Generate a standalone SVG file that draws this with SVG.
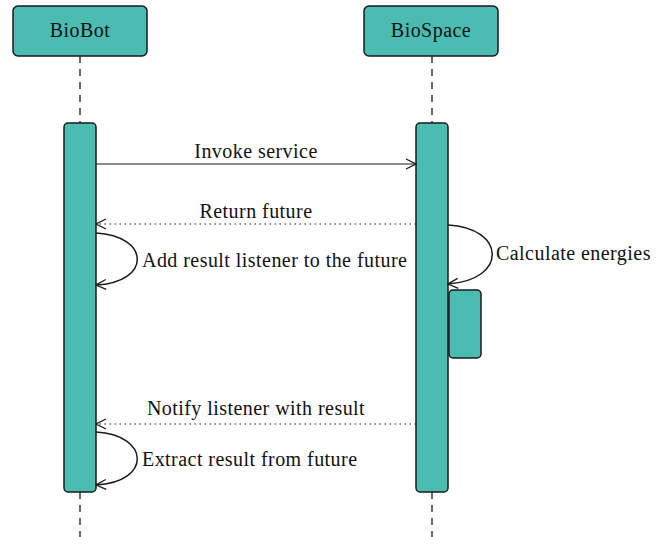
<svg xmlns="http://www.w3.org/2000/svg" width="663" height="537" viewBox="0 0 663 537">
  <style>
    .box { fill: #4BBCB1; stroke: #1a1a1a; stroke-width: 1.5; }
    .life { stroke: #1a1a1a; stroke-width: 1.3; stroke-dasharray: 7 6; fill: none; }
    .msg { stroke: #1a1a1a; stroke-width: 1.2; fill: none; }
    .ret { stroke: #1a1a1a; stroke-width: 1.2; fill: none; stroke-dasharray: 1.5 3.5; }
    .loop { stroke: #1a1a1a; stroke-width: 1.5; fill: none; }
    text { font-family: "Liberation Serif", "DejaVu Serif", serif; font-size: 20px; letter-spacing: 0.45px; fill: #111; }
    .mid { text-anchor: middle; }
  </style>
  <defs>
    <marker id="open" viewBox="0 0 12 12" refX="11" refY="6" markerWidth="12" markerHeight="12" markerUnits="userSpaceOnUse" orient="auto">
      <path d="M1,1 L11,6 L1,11" fill="none" stroke="#1a1a1a" stroke-width="1.3"/>
    </marker>
  </defs>

  <!-- lifelines -->
  <g id="lifelines">
    <line class="life" x1="80" y1="56" x2="80" y2="123"/>
    <line class="life" x1="80" y1="492" x2="80" y2="537"/>
    <line class="life" x1="432" y1="56" x2="432" y2="123"/>
    <line class="life" x1="432" y1="492" x2="432" y2="537"/>
  </g>

  <g id="biobot">
    <rect class="box" x="13" y="6" width="134" height="50" rx="5"/>
    <text class="mid" x="80" y="37">BioBot</text>
  </g>
  <g id="biospace">
    <rect class="box" x="364" y="6" width="134" height="50" rx="5"/>
    <text class="mid" x="431" y="37">BioSpace</text>
  </g>

  <g id="biobot-activation">
    <rect class="box" x="64" y="123" width="32" height="369" rx="4"/>
  </g>
  <g id="biospace-activation">
    <rect class="box" x="416" y="123" width="32" height="369" rx="4"/>
  </g>
  <g id="calc-activation">
    <rect class="box" x="449" y="290" width="32" height="68" rx="4"/>
  </g>

  <g id="connectors">
    <line class="msg" x1="96" y1="164" x2="416" y2="164" marker-end="url(#open)"/>
    <line class="ret" x1="416" y1="224" x2="96" y2="224" marker-end="url(#open)"/>
    <path class="loop" d="M96,233 C150,236 152,282 96,285" marker-end="url(#open)"/>
    <path class="loop" d="M448,225 C506,228 508,280 448,284" marker-end="url(#open)"/>
    <line class="ret" x1="416" y1="424" x2="96" y2="424" marker-end="url(#open)"/>
    <path class="loop" d="M96,432 C150,435 152,482 96,485" marker-end="url(#open)"/>
  </g>

  <g id="labels">
    <text class="mid" x="256" y="158">Invoke service</text>
    <text class="mid" x="256" y="218">Return future</text>
    <text x="142" y="267">Add result listener to the future</text>
    <text x="496" y="260">Calculate energies</text>
    <text class="mid" x="256" y="415">Notify listener with result</text>
    <text x="142" y="466">Extract result from future</text>
  </g>
</svg>
